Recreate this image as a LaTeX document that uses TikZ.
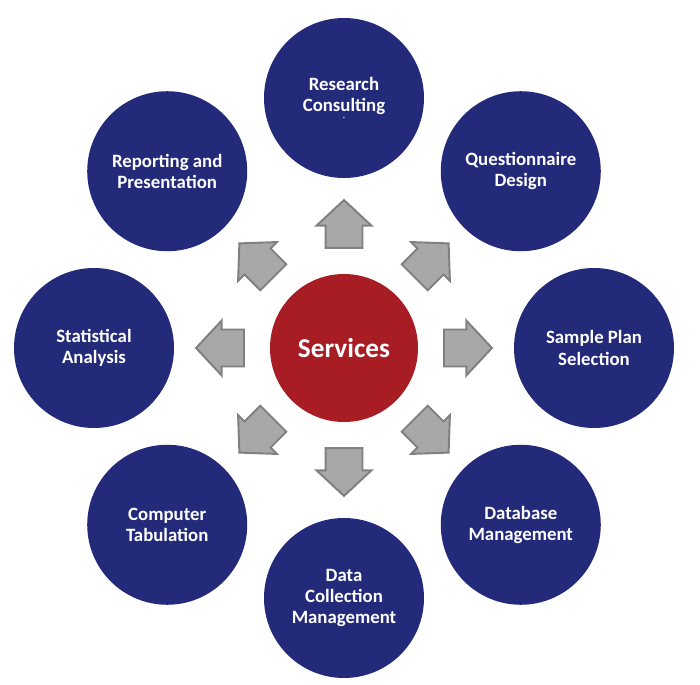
\documentclass[tikz,border=0pt]{standalone}
\usepackage{fontspec}
\setmainfont{Carlito}
\usetikzlibrary{shapes.arrows}

\definecolor{svcblue}{RGB}{35,42,122}
\definecolor{svcred}{RGB}{168,28,36}
\definecolor{arrfill}{RGB}{168,168,168}
\definecolor{arrdraw}{RGB}{128,128,128}

\tikzset{
  outer/.style={circle, fill=svcblue, minimum size=3.2cm, inner sep=0pt,
    text=white, font=\bfseries\fontsize{10.7}{12.2}\selectfont, align=center},
  hub/.style={circle, fill=svcred, minimum size=2.96cm, inner sep=0pt,
    text=white, font=\bfseries\fontsize{15.5}{18}\selectfont},
  blockarrow/.style={single arrow, fill=arrfill, draw=arrdraw, line width=1.1pt,
    minimum height=0.96cm, inner xsep=0pt, inner ysep=0.35cm, anchor=tail,
    single arrow head extend=0.18cm, single arrow tip angle=94}
}

\begin{document}
\begin{tikzpicture}
\useasboundingbox (-6.88,-6.72) rectangle (7.12,6.96);

\node[hub] (hub) at (0,0) {Services};

% outer services
\node[outer] (research) at (90:5) {Research\\Consulting\\[-8pt]{\tiny.}};
\node[outer] (quest) at (45:5) {Questionnaire\\Design};
\node[outer] (sample) at (0:5) {Sample Plan\\Selection};
\node[outer] (dbase) at (-45:5) {Database\\Management};
\node[outer] (collect) at (-90:5) {Data\\Collection\\Management};
\node[outer] (tabul) at (-135:5) {Computer\\Tabulation};
\node[outer] (stats) at (180:5) {Statistical\\Analysis};
\node[outer] (report) at (135:5) {Reporting and\\Presentation};

% arrows pointing out of the hub
\foreach \a in {0,45,...,315}
  \node[blockarrow, rotate=\a] (arr\a) at (\a:1.98) {};
\end{tikzpicture}
\end{document}
